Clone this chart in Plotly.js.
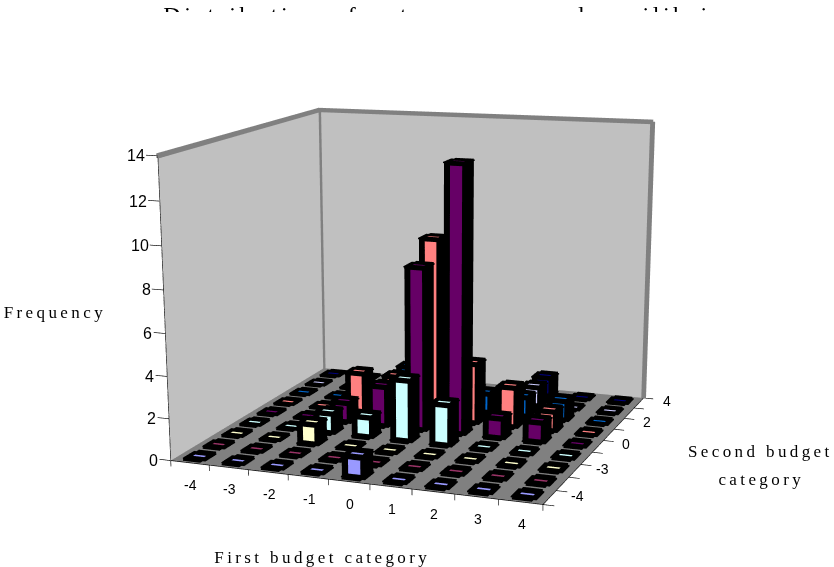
<!DOCTYPE html>
<html><head><meta charset="utf-8">
<script src="https://cdn.plot.ly/plotly-3.0.1.min.js"></script>
<style>
html,body{margin:0;padding:0;width:834px;height:567px;overflow:hidden;background:#fff}
#frame{position:absolute;left:0;top:0;width:834px;height:567px;overflow:hidden}
#plot{position:absolute;left:-149px;top:-342px;width:1000px;height:1502px}
#mask{position:absolute;left:120px;top:12px;width:640px;height:30px;background:#fff;pointer-events:none}
.annotation[data-index="0"] text,.annotation[data-index="1"] text,.annotation[data-index="2"] text,.annotation[data-index="3"] text{letter-spacing:3.4px}
.gtitle{letter-spacing:3.6px}
</style></head>
<body><div id="frame"><div id="plot"></div><div id="mask"></div></div>
<script>
const firstLabels = ['-4','-3','-2','-1','0','1','2','3','4'];
const secondLabels = ['-4','','-3','','0','','2','','4'];
const zTicks = [0,2,4,6,8,10,12,14];
const rowColors = ['#9999ff','#993366','#ffffcc','#ccffff','#660066','#ff8080','#0066cc','#ccccff','#000080'];
const row1 = [0,0,0,0,1,0,0,0,0];
const row2 = [0,0,0,0,0,0,0,0,0];
const row3 = [0,0,1,0,0,0,0,0,0];
const row4 = [0,0,1,1,3,2,0,0,0];
const row5 = [0,0,1,2,8,13,1,1,0];
const row6 = [0,0,2,2,9,3,2,1,0];
const row7 = [0,0,0,2,0,1,1,1,0];
const row8 = [0,0,0,0,0,0,1,0,0];
const row9 = [0,0,0,0,0,0,1,0,0];
const rows = [row1,row2,row3,row4,row5,row6,row7,row8,row9];

const hx=0.225, hy=0.18, tx=0.068, inY=0.105, outY=0.23, tz=0.15, n=firstLabels.length, zMax=14, pad=0.03;
const flat={ambient:1,diffuse:0,specular:0,roughness:1,fresnel:0};
function Mesh(color){return {type:'mesh3d',x:[],y:[],z:[],i:[],j:[],k:[],color,flatshading:true,lighting:flat,hoverinfo:'skip',opacity:1,showscale:false};}
function addQuad(m,q){const b=m.x.length;q.forEach(p=>{m.x.push(p[0]);m.y.push(p[1]);m.z.push(p[2]);});
  m.i.push(b,b);m.j.push(b+1,b+2);m.k.push(b+2,b+3);}
function addBox(m,x0,x1,y0,y1,z0,z1){
  addQuad(m,[[x0,y0,z0],[x1,y0,z0],[x1,y1,z0],[x0,y1,z0]]);
  addQuad(m,[[x0,y0,z1],[x1,y0,z1],[x1,y1,z1],[x0,y1,z1]]);
  addQuad(m,[[x0,y0,z0],[x1,y0,z0],[x1,y0,z1],[x0,y0,z1]]);
  addQuad(m,[[x0,y1,z0],[x1,y1,z0],[x1,y1,z1],[x0,y1,z1]]);
  addQuad(m,[[x0,y0,z0],[x0,y1,z0],[x0,y1,z1],[x0,y0,z1]]);
  addQuad(m,[[x1,y0,z0],[x1,y1,z0],[x1,y1,z1],[x1,y0,z1]]);
}
function addRing(m,x0,x1,y0,y1,z0,z1){
  addBox(m,x0,x1,y0-outY,y0+inY,z0,z1);
  addBox(m,x0,x1,y1-inY,y1+outY,z0,z1);
  addBox(m,x0-tx,x0+tx,y0-inY,y1+inY,z0,z1);
  addBox(m,x1-tx,x1+tx,y0-inY,y1+inY,z0,z1);
}
const traces=[];
const wall=Mesh('#c0c0c0');
addQuad(wall,[[0,n,0],[n,n,0],[n,n,zMax],[0,n,zMax]]);
addQuad(wall,[[0,0,0],[0,n,0],[0,n,zMax],[0,0,zMax]]);
traces.push(wall);
const floorM=Mesh('#808080');
addQuad(floorM,[[0,0,0],[n,0,0],[n,n,0],[0,n,0]]);
traces.push(floorM);
const edge=Mesh('#808080');
addBox(edge,-0.05,n,n-0.05,n+0.05,zMax-0.1,zMax+0.1);
addBox(edge,-0.04,0.04,0,n,zMax-0.1,zMax+0.1);
addBox(edge,-0.05,0.05,n-0.05,n+0.05,0,zMax);
addBox(edge,n-0.05,n+0.05,n-0.05,n+0.05,0,zMax);
traces.push(edge);
const outline=Mesh('#000000');
rows.forEach((vals,r)=>{
  const m=Mesh(rowColors[r]);
  vals.forEach((v,c)=>{
    const x0=c+.5-hx,x1=c+.5+hx,y0=r+.5-hy,y1=r+.5+hy;
    const top=v>0?v:pad;
    addQuad(m,[[x0,y0,top],[x1,y0,top],[x1,y1,top],[x0,y1,top]]);
    addRing(outline,x0,x1,y0,y1,top-pad,top+pad);
    if(v>0){
      addQuad(m,[[x0,y0,0],[x1,y0,0],[x1,y0,v],[x0,y0,v]]);
      addQuad(m,[[x1,y0,0],[x1,y1,0],[x1,y1,v],[x1,y0,v]]);
      addQuad(m,[[x0,y0,0],[x0,y1,0],[x0,y1,v],[x0,y0,v]]);
      addQuad(m,[[x0,y1,0],[x1,y1,0],[x1,y1,v],[x0,y1,v]]);
      addRing(outline,x0,x1,y0,y1,0,pad*2);
      addBox(outline,x0-tx,x1+tx,y0-0.04,y0+0.04,v-tz,v);
      addBox(outline,x0-tx,x1+tx,y0-0.04,y0+0.04,0,tz);
      [[x0,y0-0.04,y0+0.13],[x1,y0-0.04,y0+0.13],[x1,y1-0.13,y1+0.04],[x0,y1-0.13,y1+0.04]].forEach(p=>addBox(outline,p[0]-tx,p[0]+tx,p[1],p[2],0,v));
    }
  });
  traces.push(m);
});
traces.push(outline);
const ax=[0,n,n,null,0,0,null],ay=[0,0,n,null,0,0,null],az=[0,0,0,null,0,zMax,null];
for(let i=0;i<=n;i++){ax.push(i,i,null);ay.push(0,0,null);az.push(0,-0.28,null);
  ax.push(n,n+0.25,null);ay.push(i,i,null);az.push(0,0,null);}
zTicks.forEach(t=>{ax.push(0,-0.3,null);ay.push(0,0,null);az.push(t,t,null);});
traces.push({type:'scatter3d',mode:'lines',x:ax,y:ay,z:az,line:{color:'#000',width:1.3},connectgaps:false,hoverinfo:'skip'});

const tickFont={family:'"Liberation Sans",Arial,sans-serif',size:14,color:'#000'};
const zFont={family:tickFont.family,size:16,color:'#000'};
const sceneAnn=[];
firstLabels.forEach((t,i)=>sceneAnn.push({x:i+.5,y:0,z:0,xshift:1,yshift:-22,text:t,showarrow:false,font:tickFont}));
secondLabels.forEach((t,j)=>{if(t)sceneAnn.push({x:n,y:j+.5,z:0,xshift:28,yshift:2,text:t,showarrow:false,font:tickFont});});
zTicks.forEach(t=>sceneAnn.push({x:0,y:0,z:t,text:String(t),showarrow:false,xanchor:'right',xshift:-11,font:zFont}));

const hidden={showgrid:false,zeroline:false,showticklabels:false,ticks:'',showline:false,showbackground:false,showspikes:false,title:{text:''}};
const px=x=>(x+149)/1000, py=y=>1-(y+342)/1502;
const serif={family:'"Liberation Serif","Times New Roman",serif',size:17,color:'#000'};
const axisTitle=(x,y,text)=>({xref:'paper',yref:'paper',x:px(x),y:py(y),xanchor:'center',yanchor:'middle',text,showarrow:false,font:serif});
const layout={
  width:1000,height:1502,autosize:false,showlegend:false,paper_bgcolor:'#fff',
  margin:{l:0,r:0,t:0,b:0,pad:0},
  title:{text:'Distribution of outcomes around equilibrium',x:px(456),y:py(15),xanchor:'center',yanchor:'middle',
    font:{family:serif.family,size:24,color:'#000'}},
  annotations:[
    axisTitle(55,312,'Frequency'),
    axisTitle(322,557,'First budget category'),
    axisTitle(760,451,'Second budget'),
    axisTitle(761,479,'category')
  ],
  scene:{domain:{x:[0,1],y:[0,1]},aspectmode:'manual',aspectratio:{x:10/9,y:10/9,z:0.789*15/14},
    xaxis:Object.assign({range:[-0.5,n+0.5]},hidden),yaxis:Object.assign({range:[-0.5,n+0.5]},hidden),zaxis:Object.assign({range:[-0.5,zMax+0.5]},hidden),
    camera:{projection:{type:'perspective'},eye:{x:1.66,y:-4.446,z:1.02},center:{x:-0.137,y:-0.155,z:-0.313},up:{x:-0.094,y:0.259,z:0.9613}},
    annotations:sceneAnn}
};
Plotly.newPlot('plot',traces,layout,{displayModeBar:false,responsive:false});
</script></body></html>
